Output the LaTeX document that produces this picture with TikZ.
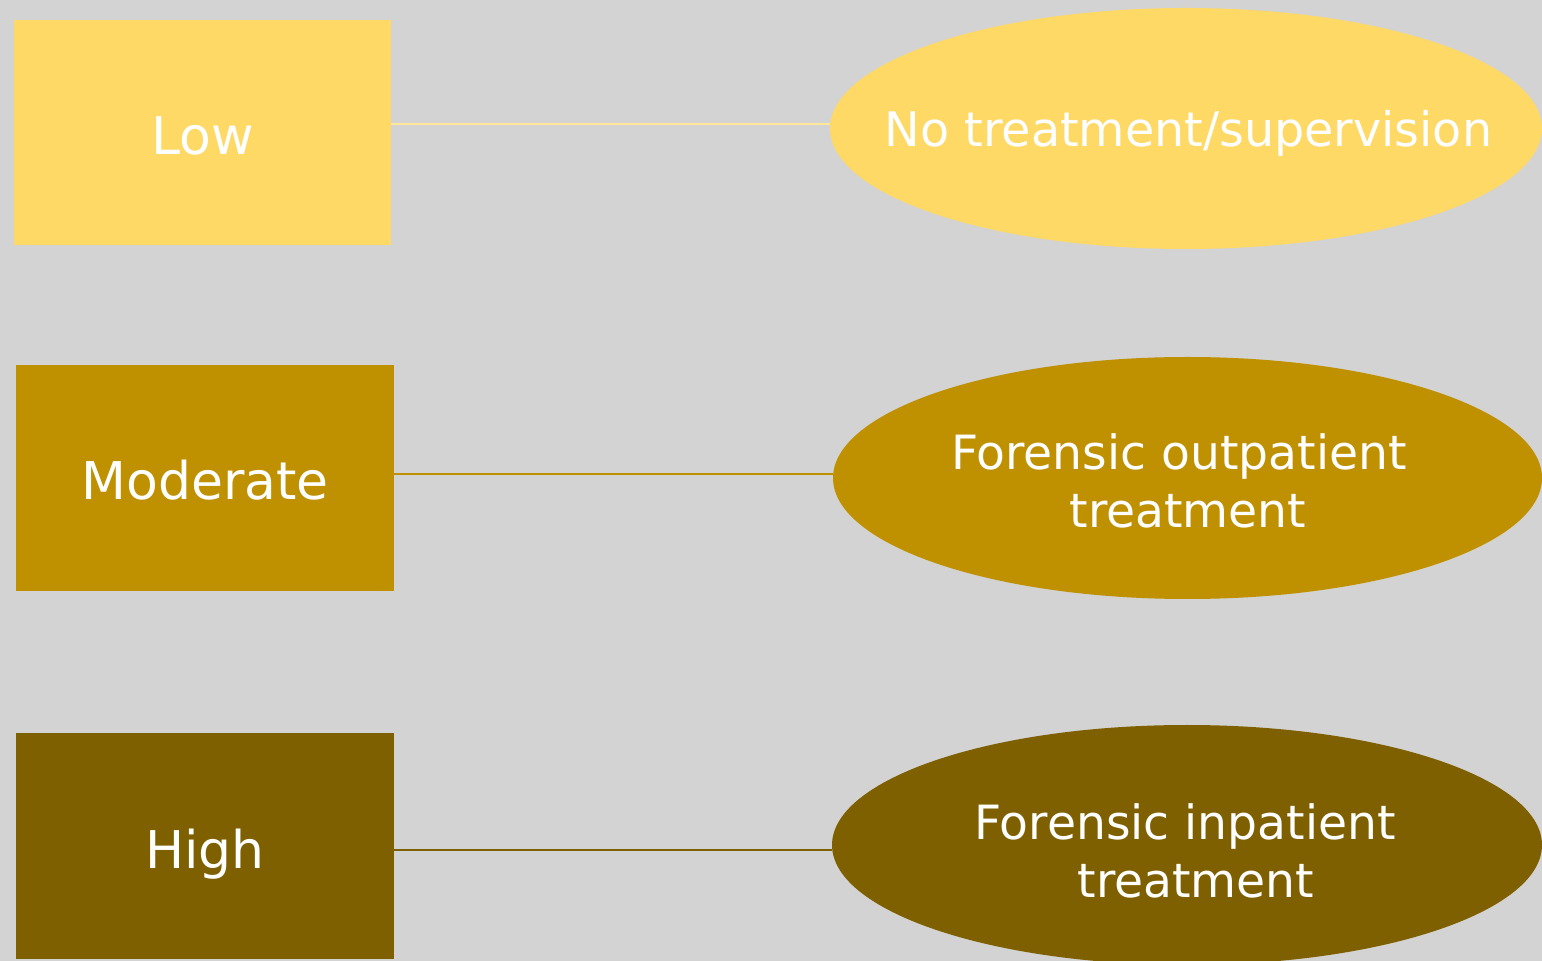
\documentclass[tikz,border=0pt]{standalone}
\usepackage{fontspec}
\setmainfont{DejaVu Sans}
\usetikzlibrary{shapes.geometric}
\definecolor{bg}{HTML}{D3D3D3}
\definecolor{lowc}{HTML}{FED966}
\definecolor{lowline}{HTML}{FFE699}
\definecolor{modc}{HTML}{BF9000}
\definecolor{highc}{HTML}{7F6000}
\tikzset{
  levelbox/.style={draw=none, inner sep=0pt, text=white, text height=22pt, text depth=0pt, font=\fontsize{26}{31}\selectfont},
  oval/.style={ellipse, draw=none, inner sep=0pt},
  ovaltext/.style={text=white, align=center, inner sep=0pt, font=\fontsize{23.6}{29}\selectfont},
  link/.style={line width=1pt}
}
\begin{document}
\begin{tikzpicture}[x=0.5pt,y=-0.5pt]
\fill[bg] (0,0) rectangle (1542,961);
\useasboundingbox (0,0) rectangle (1542,961);
% level boxes
\node[levelbox, fill=lowc, minimum width=188.5pt, minimum height=112.5pt] (r1) at (202.5,132.5) {Low};
\node[levelbox, fill=modc, minimum width=189pt, minimum height=113pt] (r2) at (205,478) {Moderate};
\node[levelbox, fill=highc, minimum width=189pt, minimum height=113pt] (r3) at (205,846) {High};
% ellipses
\node[oval, fill=lowc, minimum width=356pt, minimum height=120.5pt] (e1) at (1186,128.5) {};
\node[oval, fill=modc, minimum width=354.5pt, minimum height=121pt] (e2) at (1187.5,478) {};
\node[oval, fill=highc, minimum width=355pt, minimum height=120pt] (e3) at (1187,845) {};
\node[ovaltext, font=\fontsize{23.8}{29}\selectfont] (t1) at (1188.5,133) {No treatment/supervision};
\node[ovaltext] (t2) at (1179,481) {Forensic outpatient\\\hspace*{9pt}treatment};
\node[ovaltext] (t3) at (1185,851) {Forensic inpatient\\\hspace*{11pt}treatment};
% connectors
\draw[link, lowline] (r1.east |- 0,124) -- (e1.west |- 0,124);
\draw[link, modc] (r2.east |- 0,474) -- (e2.west |- 0,474);
\draw[link, highc] (r3.east |- 0,850) -- (e3.west |- 0,850);
\end{tikzpicture}
\end{document}
